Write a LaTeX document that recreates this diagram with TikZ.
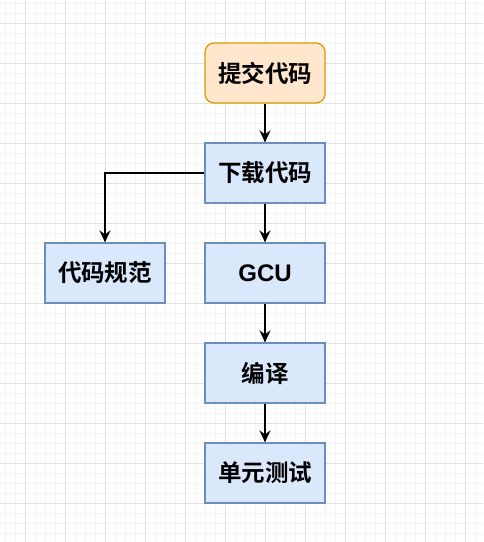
\documentclass[tikz,border=0pt]{standalone}
\usepackage{fontspec}
\setmainfont{Liberation Sans}
\newfontfamily\cjk{Noto Sans CJK SC}[BoldFont={Noto Sans CJK SC Bold}]
\usetikzlibrary{arrows.meta}
\definecolor{orfill}{HTML}{FFE6CC}
\definecolor{ordraw}{HTML}{D79B00}
\definecolor{blfill}{HTML}{DAE8FC}
\definecolor{bldraw}{HTML}{6C8EBF}
\definecolor{gridmaj}{HTML}{E2E2E2}
\definecolor{gridmin}{HTML}{F4F4F4}
\tikzset{
  box/.style={draw=bldraw, fill=blfill, line width=1.2pt, minimum width=120pt, minimum height=60pt, inner sep=0pt, font=\cjk\bfseries\fontsize{23.5pt}{26pt}\selectfont},
  startbox/.style={box, draw=ordraw, fill=orfill, rounded corners=9pt},
  conn/.style={line width=2pt, -{Stealth[length=12pt,width=11pt,inset=4pt]}}
}
\begin{document}
\begin{tikzpicture}[x=1pt,y=-1pt]
\useasboundingbox (0,0) rectangle (483,542);
\fill[white] (0,0) rectangle (483,542);
\foreach \x in {5,15,...,483} \draw[gridmin, line width=1pt] (\x,0) -- (\x,542);
\foreach \y in {3,13,...,542} \draw[gridmin, line width=1pt] (0,\y) -- (483,\y);
\foreach \x in {25,65,...,483} \draw[gridmaj, line width=1pt] (\x,0) -- (\x,542);
\foreach \y in {23,63,...,542} \draw[gridmaj, line width=1pt] (0,\y) -- (483,\y);
\node[startbox] (submit) at (265,73) {提交代码};
\node[box] (download) at (265,173) {下载代码};
\node[box] (lint) at (105,273) {代码规范};
\node[box, font=\bfseries\fontsize{24pt}{26pt}\selectfont] (gcu) at (265,273) {GCU};
\node[box] (compile) at (265,373) {编译};
\node[box] (test) at (265,473) {单元测试};
\draw[conn] (submit) -- (download);
\draw[conn] (download) -- (gcu);
\draw[conn] (gcu) -- (compile);
\draw[conn] (compile) -- (test);
\draw[conn] (download.west) -| (lint.north);
\end{tikzpicture}
\end{document}
